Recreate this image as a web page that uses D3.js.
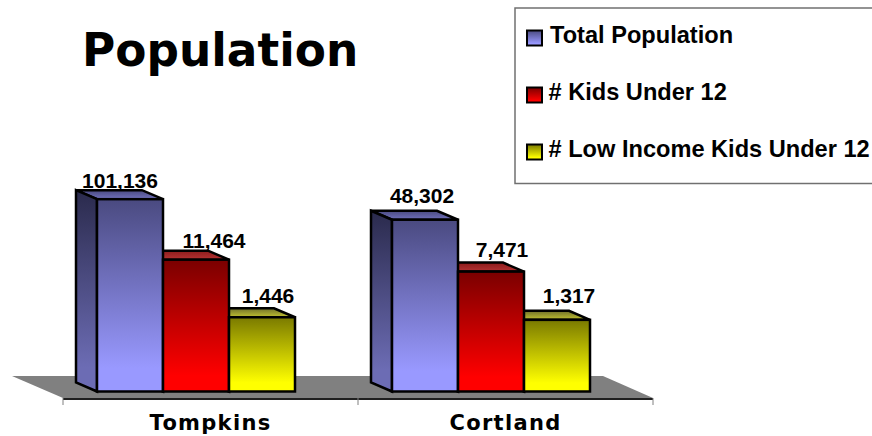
<!DOCTYPE html>
<html>
<head>
<meta charset="utf-8">
<script src="https://cdn.jsdelivr.net/npm/d3@7"></script>
<style>
html, body { margin: 0; padding: 0; background: #fff; }
svg { display: block; }
</style>
</head>
<body>
<svg width="872" height="436"></svg>
<script>
let categories = ["Tompkins", "Cortland"]
let seriesNames = ["Total Population", "# Kids Under 12", "# Low Income Kids Under 12"]
let tompkins = [101136, 11464, 1446]
let cortland = [48302, 7471, 1317]
let seriesValues = [tompkins, cortland]

let colors = [
    { front: ["#4a4a80", "#9999ff"], side: ["#2a2a4c", "#6c6cb4"], top: ["#4a4a80", "#6c6cb4"] },
    { front: ["#7a0000", "#ff0000"], side: ["#7a0000", "#ff0000"], top: ["#8c1c1c", "#b03030"] },
    { front: ["#7a7a00", "#ffff00"], side: ["#7a7a00", "#ffff00"], top: ["#70702a", "#b8b830"] }
]

let svg = d3.select("svg")
let defs = svg.append("defs")

function addGradient(id, c) {
    let g = defs.append("linearGradient").attr("id", id)
        .attr("x1", 0).attr("y1", 0).attr("x2", 0).attr("y2", 1)
    g.append("stop").attr("offset", "0%").attr("stop-color", c[0])
    g.append("stop").attr("offset", "88%").attr("stop-color", c[1])
    g.append("stop").attr("offset", "100%").attr("stop-color", c[1])
}
colors.forEach((c, i) => {
    addGradient("front" + i, c.front)
    addGradient("side" + i, c.side)
    addGradient("top" + i, c.top)
})

// depth of the fake 3d
let depthX = 21, depthY = 9
let baseY = 391.5, floorFront = 398, floorBack = 376

let x = d3.scaleBand().domain(categories).range([63, 653])
let inner = d3.scaleBand().domain(d3.range(3)).range([0, 198])
let y = d3.scaleLog().domain([100, 1000000]).range([baseY, baseY - 256])

// floor
svg.append("path")
    .attr("d", "M" + [[x.range()[0], floorFront], [x.range()[0] - 51, floorBack], [x.range()[1] - 50, floorBack], [x.range()[1], floorFront]].join("L") + "Z")
    .attr("fill", "#808080")

// axis line and ticks at the band edges
svg.append("line")
    .attr("x1", x.range()[0]).attr("x2", x.range()[1])
    .attr("y1", floorFront + 1).attr("y2", floorFront + 1)
    .attr("stroke", "#202020").attr("stroke-width", 2)

let tickX = categories.map(d => x(d)).concat(x.range()[1])
svg.selectAll(".tick-mark").data(tickX).join("line")
    .attr("class", "tick-mark")
    .attr("x1", d => d).attr("x2", d => d)
    .attr("y1", floorFront).attr("y2", floorFront + 7)
    .attr("stroke", "#808080").attr("stroke-width", 1)

svg.selectAll(".cat").data(categories).join("text")
    .attr("class", "cat")
    .attr("x", d => x(d) + x.bandwidth() / 2)
    .attr("y", 430)
    .attr("text-anchor", "middle")
    .style("font-family", "'DejaVu Sans'")
    .style("font-weight", "bold")
    .style("font-size", "21px")
    .style("letter-spacing", "1.3px")
    .text(d => d)

// label placement was done by hand in the original
let labelShift = [[-10, 18, 6], [-3, 11, 12]]
let labelLift = [2, 2.5, 5.5, 8, 6, 8]

let stroke = { stroke: "#000", width: 2.5 }

categories.forEach((cat, ci) => {
    let x0 = x(cat) + x.bandwidth() / 2 - 14.5 - 99
    let g = svg.append("g").attr("class", "group")
    seriesValues[ci].forEach((v, si) => {
        let l = x0 + inner(si), r = l + inner.bandwidth(), t = y(v)
        let poly = (pts, fill) => g.append("path")
            .attr("d", "M" + pts.join("L") + "Z")
            .attr("fill", fill)
            .attr("stroke", stroke.stroke)
            .attr("stroke-width", stroke.width)
            .attr("stroke-linejoin", "miter")
        poly([[l, t], [l - depthX, t - depthY], [r - depthX, t - depthY], [r, t]], "url(#top" + si + ")")
        poly([[l, t], [l - depthX, t - depthY], [l - depthX, baseY - depthY], [l, baseY]], "url(#side" + si + ")")
    })
    seriesValues[ci].forEach((v, si) => {
        let l = x0 + inner(si), t = y(v)
        g.append("rect")
            .attr("x", l).attr("y", t)
            .attr("width", inner.bandwidth()).attr("height", baseY - t)
            .attr("fill", "url(#front" + si + ")")
            .attr("stroke", stroke.stroke).attr("stroke-width", stroke.width)
    })
    seriesValues[ci].forEach((v, si) => {
        g.append("text")
            .attr("x", x0 + inner(si) + inner.bandwidth() / 2 + labelShift[ci][si])
            .attr("y", y(v) - depthY - labelLift[ci * 3 + si])
            .attr("text-anchor", "middle")
            .style("font-family", "'Liberation Sans'")
            .style("font-weight", "bold")
            .style("font-size", "21px")
            .text(d3.format(",")(v))
    })
})

// title
svg.append("text")
    .attr("x", 82).attr("y", 65.5)
    .style("font-family", "'DejaVu Sans'")
    .style("font-weight", "bold")
    .style("font-size", "45.4px")
    .text("Population")

// legend
svg.append("rect")
    .attr("x", 515).attr("y", 8).attr("width", 370).attr("height", 175.5)
    .attr("fill", "#fff").attr("stroke", "#707070").attr("stroke-width", 1.5)

let legendY = d3.scalePoint().domain(seriesNames).range([38, 152])
let legend = svg.selectAll(".legend").data(seriesNames).join("g")
    .attr("class", "legend")
    .attr("transform", d => "translate(0," + legendY(d) + ")")

legend.append("rect")
    .attr("x", 527).attr("y", -7.5).attr("width", 15).attr("height", 15)
    .attr("fill", (d, i) => "url(#front" + i + ")")
    .attr("stroke", "#000").attr("stroke-width", 2)

legend.append("text")
    .attr("x", (d, i) => i == 0 ? 550 : 548.5)
    .attr("y", 5)
    .style("font-family", "'Liberation Sans'")
    .style("font-weight", "bold")
    .style("font-size", "23.6px")
    .text(d => d)
</script>
</body>
</html>
